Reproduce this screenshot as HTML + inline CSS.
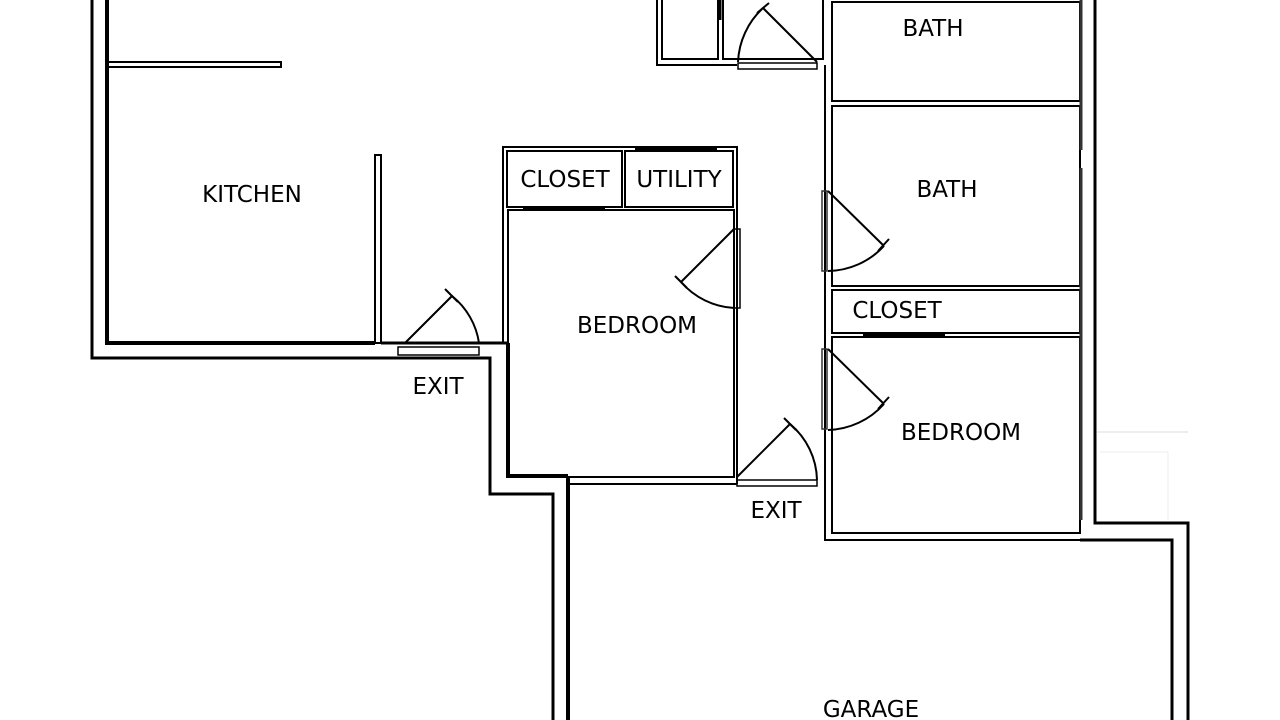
<!DOCTYPE html>
<html><head><style>html,body{margin:0;padding:0;background:#fff}svg{display:block}</style></head>
<body>
<svg width="1280" height="720" viewBox="0 0 1280 720" xmlns="http://www.w3.org/2000/svg">
<g fill="none" stroke="#000" stroke-width="3">
<polyline points="92,0 92,358 490,358 490,494 553,494 553,720"/>
<polyline points="107,0 107,343 375,343" stroke-width="4"/>
<rect x="107" y="62" width="174" height="5" stroke-width="2"/>
<rect x="375" y="155" width="6" height="188" stroke-width="2"/>
<line x1="381" y1="343" x2="508" y2="343"/>
<rect x="398" y="347" width="81" height="8" stroke-width="1.5"/>
<line x1="405" y1="343" x2="452" y2="296" stroke-width="2"/>
<line x1="445" y1="289" x2="458" y2="302" stroke-width="2"/>
<path d="M452,296 A74,74 0 0 1 479,343" stroke-width="2"/>
<polyline points="503,343 503,147 737,147 737,484" stroke-width="2"/>
<polyline points="508,343 508,476 568,476" stroke-width="4"/>
<rect x="507" y="151" width="115" height="56" stroke-width="2"/>
<rect x="625" y="151" width="108" height="56" stroke-width="2"/>
<rect x="508" y="210" width="226" height="267" stroke-width="2"/>
<line x1="635" y1="149" x2="717" y2="149" stroke-width="4"/>
<line x1="523" y1="209" x2="605" y2="209" stroke-width="4"/>
<rect x="734" y="229" width="6" height="79" stroke-width="1.5"/>
<line x1="734" y1="229" x2="681" y2="282" stroke-width="2"/>
<line x1="675" y1="276" x2="687" y2="288" stroke-width="2"/>
<path d="M681,282 A76,76 0 0 0 734,308" stroke-width="2"/>
<line x1="568" y1="476" x2="568" y2="720" stroke-width="4"/>
<line x1="568" y1="484" x2="737" y2="484" stroke-width="2"/>
<rect x="737" y="480" width="80" height="6" stroke-width="1.5"/>
<line x1="737" y1="477" x2="790" y2="424" stroke-width="2"/>
<line x1="784" y1="418" x2="796" y2="430" stroke-width="2"/>
<path d="M790,424 A75,75 0 0 1 817,480" stroke-width="2"/>
<polyline points="657,0 657,65 737,65" stroke-width="2"/>
<polyline points="662,0 662,59 718,59 718,0" stroke-width="2"/>
<polyline points="723,0 723,59 823,59 823,0" stroke-width="2"/>
<line x1="720" y1="0" x2="720" y2="20" stroke-width="3"/>
<rect x="738" y="63" width="79" height="6" stroke-width="1.5"/>
<line x1="817" y1="62" x2="763" y2="8" stroke-width="2"/>
<line x1="757" y1="13" x2="769" y2="3" stroke-width="2"/>
<path d="M763,8 A78,78 0 0 0 738,62" stroke-width="2"/>
<polyline points="825,65 825,540 1080,540" stroke-width="2"/>
<rect x="832" y="2" width="248" height="99" stroke-width="2"/>
<rect x="832" y="106" width="248" height="180" stroke-width="2"/>
<rect x="832" y="290" width="248" height="43" stroke-width="2"/>
<rect x="832" y="337" width="248" height="196" stroke-width="2"/>
<line x1="1081" y1="0" x2="1081" y2="150" stroke="#333" stroke-width="3"/>
<line x1="1081" y1="168" x2="1081" y2="520" stroke="#333" stroke-width="3"/>
<line x1="863" y1="336" x2="945" y2="336" stroke-width="4"/>
<rect x="822" y="191" width="5" height="80" stroke="#333" stroke-width="1.5"/>
<line x1="828" y1="191" x2="884" y2="246" stroke-width="2"/>
<line x1="878" y1="251" x2="889" y2="239" stroke-width="2"/>
<path d="M884,246 A78,78 0 0 1 828,271" stroke-width="2"/>
<rect x="822" y="349" width="5" height="80" stroke="#333" stroke-width="1.5"/>
<line x1="828" y1="349" x2="884" y2="404" stroke-width="2"/>
<line x1="878" y1="409" x2="889" y2="397" stroke-width="2"/>
<path d="M884,404 A78,78 0 0 1 828,430" stroke-width="2"/>
<polyline points="1095,0 1095,523 1188,523 1188,720" stroke-width="3"/>
<polyline points="1080,540 1172,540 1172,720" stroke-width="3"/>
<line x1="1097" y1="432" x2="1188" y2="432" stroke="#ddd" stroke-width="1"/>
<polyline points="1100,452 1168,452 1168,520" stroke="#eee" stroke-width="1"/>
</g>
<g font-family="'DejaVu Sans','Liberation Sans',sans-serif" font-size="23" fill="#000" text-anchor="middle">
<text x="252" y="202">KITCHEN</text>
<text x="565" y="187">CLOSET</text>
<text x="679" y="187">UTILITY</text>
<text x="637" y="333">BEDROOM</text>
<text x="438" y="394">EXIT</text>
<text x="776" y="518">EXIT</text>
<text x="933" y="36">BATH</text>
<text x="947" y="197">BATH</text>
<text x="897" y="318">CLOSET</text>
<text x="961" y="440">BEDROOM</text>
<text x="871" y="717">GARAGE</text>
</g>
</svg>
</body></html>
